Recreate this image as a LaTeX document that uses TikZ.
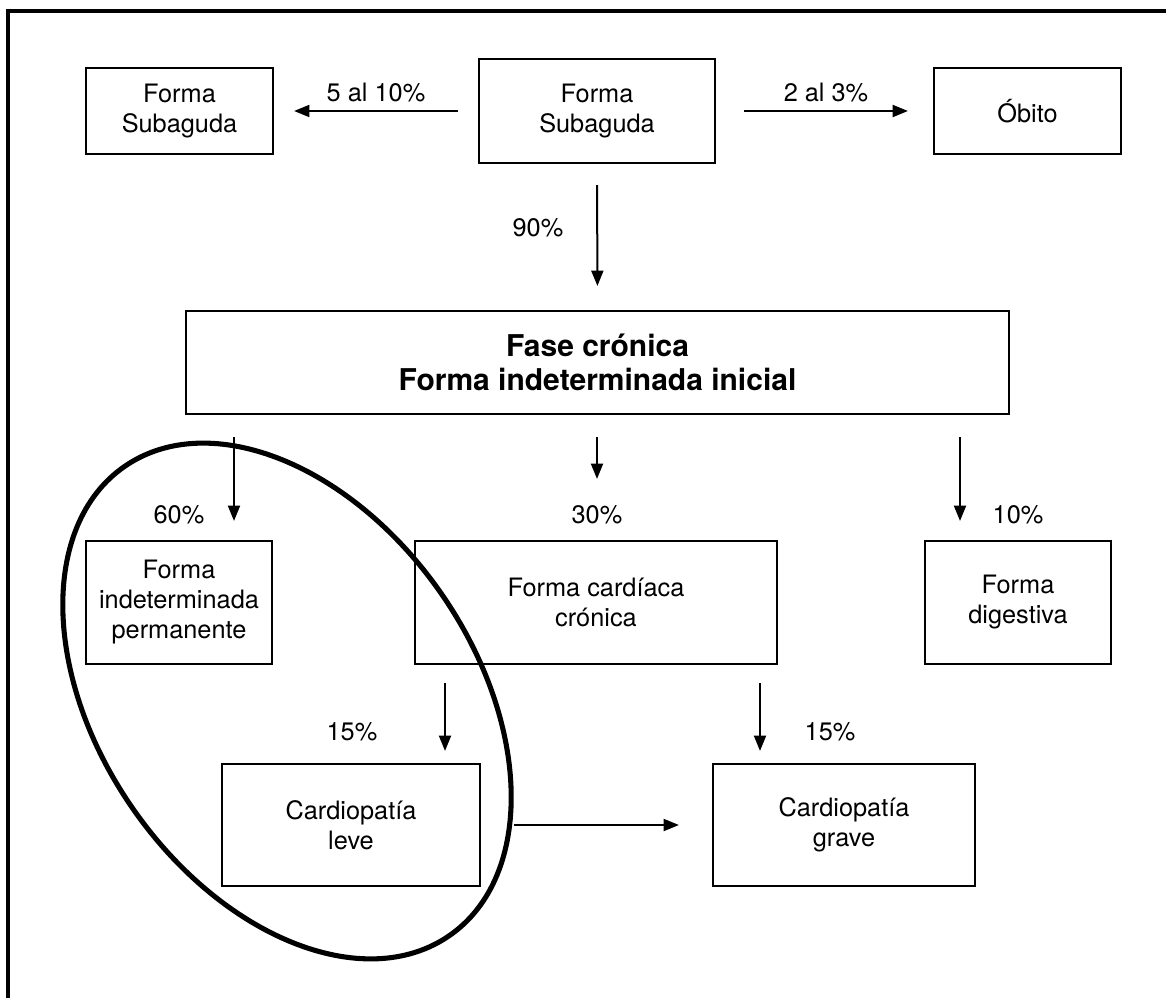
\documentclass[tikz,border=0pt]{standalone}
\usepackage{fontspec}
\setmainfont{TeX Gyre Heros}
\usetikzlibrary{arrows.meta}
\begin{document}
\begin{tikzpicture}[x=0.75pt,y=-0.75pt,
  box/.style={draw, line width=1.6pt, align=center, inner sep=0pt,
    font=\fontsize{19}{22.5}\selectfont},
  arr/.style={line width=1.5pt, -{Triangle[length=11.5pt,width=9pt]}},
  lbl/.style={font=\fontsize{19}{22.5}\selectfont, inner sep=0pt}]
\useasboundingbox (0,0) rectangle (1166,998);

% open frame: top and left sides only
\draw[line width=2.3pt] (8,998) -- (8,11) -- (1166,11);

% top row
\node[box, minimum width=140.25pt, minimum height=64.5pt] (sub1) at (179.5,111) {Forma\\Subaguda};
\node[box, minimum width=177pt, minimum height=78pt] (sub2) at (597,111) {Forma\\Subaguda};
\node[box, minimum width=140.25pt, minimum height=64.5pt] (obito) at (1027.5,111) {Óbito};

% chronic phase
\node[box, minimum width=617.25pt, minimum height=77.25pt,
  font=\fontsize{22.5}{25}\selectfont\bfseries] (fase) at (597.5,362.5)
  {Fase crónica\\Forma indeterminada inicial};

% third row
\node[box, minimum width=139.5pt, minimum height=92.25pt] (indet) at (179,602.5) {Forma\\indeterminada\\permanente};
\node[box, minimum width=271.5pt, minimum height=92.25pt] (card) at (596,602.5) {Forma cardíaca\\crónica};
\node[box, minimum width=139.5pt, minimum height=92.25pt] (dig) at (1018,602.5) {Forma\\digestiva};

% bottom row
\node[box, minimum width=193.5pt, minimum height=91.5pt] (leve) at (351,825) {Cardiopatía\\leve};
\node[box, minimum width=196.5pt, minimum height=91.5pt] (grave) at (844,825) {Cardiopatía\\grave};

% horizontal positions of the branch arrows
\coordinate (c60) at (234,0);
\coordinate (c30) at (597,0);
\coordinate (c10) at (960,0);
\coordinate (cl) at (445,0);
\coordinate (cg) at (760,0);

% connectors
\draw[arr, shorten <=15pt, shorten >=15pt] (sub2.west) -- (sub1.east);
\draw[arr, shorten <=21pt, shorten >=18.75pt] (sub2.east) -- (obito.west);
\draw[arr, shorten <=15.75pt, shorten >=18pt] (sub2.south) -- (fase.north);
\draw[arr, shorten <=16.5pt, shorten >=14.25pt] (fase.south -| c60) -- (indet.north -| c60);
\draw[arr, shorten <=16.5pt, shorten >=45.75pt] (fase.south -| c30) -- (card.north -| c30);
\draw[arr, shorten <=16.5pt, shorten >=14.25pt] (fase.south -| c10) -- (dig.north -| c10);
\draw[arr, shorten <=13.5pt, shorten >=9pt] (card.south -| cl) -- (leve.north -| cl);
\draw[arr, shorten <=13.5pt, shorten >=9pt] (card.south -| cg) -- (grave.north -| cg);
\draw[arr, shorten <=24.75pt, shorten >=24.75pt] (leve.east) -- (grave.west);

% percentages
\node[lbl] (p510) at (376,93) {5 al 10\%};
\node[lbl] (p23) at (826,93) {2 al 3\%};
\node[lbl] (p90) at (538,228) {90\%};
\node[lbl] (p60) at (179,515) {60\%};
\node[lbl] (p30) at (597,515) {30\%};
\node[lbl] (p10) at (1018,515) {10\%};
\node[lbl] (p15a) at (352,732) {15\%};
\node[lbl] (p15b) at (830,732) {15\%};

% highlighted group
\draw[line width=3.8pt, rotate around={-55.3:(287,701)}] (287,701) ellipse [x radius=214pt, y radius=141pt];
\end{tikzpicture}
\end{document}
